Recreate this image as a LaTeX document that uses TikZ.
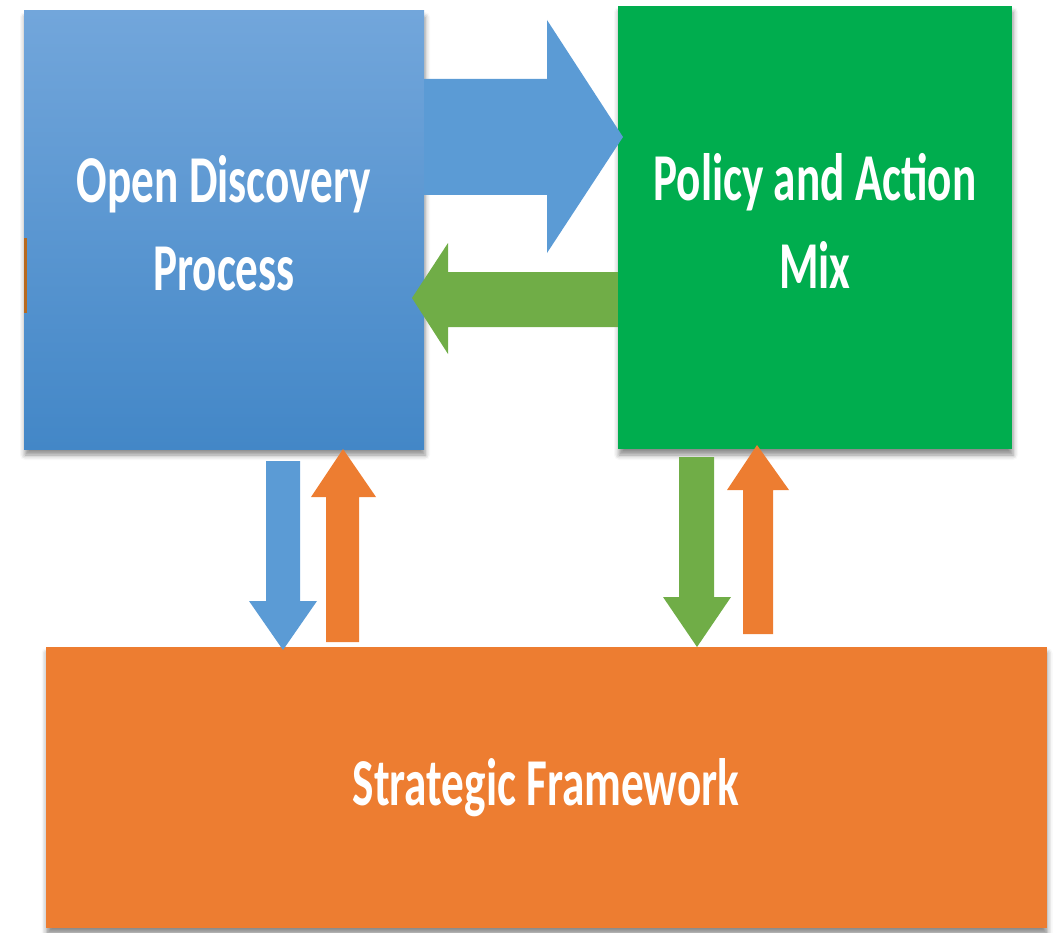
\documentclass[tikz,border=0pt]{standalone}
\usepackage{fontspec}
\newfontfamily\boxfont{Carlito}[FakeStretch=0.675]
\usetikzlibrary{shadows.blur}
\definecolor{bluetop}{HTML}{72A6DB}
\definecolor{bluebot}{HTML}{4387C7}
\definecolor{bluearrow}{HTML}{5B9BD5}
\definecolor{greenbox}{HTML}{00AD4E}
\definecolor{greenarrow}{HTML}{70AD47}
\definecolor{orangebox}{HTML}{ED7D31}
\definecolor{sliver}{HTML}{B8691E}
\tikzset{
  box/.style={draw=none, inner sep=0pt, align=center, text=white,
    font=\boxfont\bfseries\fontsize{67}{88}\selectfont,
    blur shadow={shadow xshift=1pt, shadow yshift=-6pt, shadow blur radius=5pt, shadow opacity=45}},
  blockarrow/.style={draw=none}
}
\begin{document}
\begin{tikzpicture}[x=1pt, y=-1pt]
\useasboundingbox (0,0) rectangle (1056,933);
% boxes
\node[box, top color=bluetop, bottom color=bluebot, minimum width=400pt, minimum height=438pt, text depth=14pt]
  (odp) at (224,230) {Open Discovery\\Process};
\node[box, fill=greenbox, minimum width=394pt, minimum height=443pt, text depth=14pt]
  (pam) at (815,227.5) {Policy and Action\\Mix};
\node[box, fill=orangebox, minimum width=1001pt, minimum height=281pt]
  (sf) at (546,787.5) {Strategic Framework};
\fill[sliver] (odp.west |- 0,238) rectangle ++(3,75);
% arrows between top boxes
\fill[bluearrow] (odp.east |- 0,79) -- (547,79) -- (547,20) -- (623,137) -- (547,253) -- (547,195) -- (odp.east |- 0,195) -- cycle;
\fill[greenarrow] (pam.west |- 0,272) -- (448,272) -- (448,243) -- (412,298) -- (448,354) -- (448,327) -- (pam.west |- 0,327) -- cycle;
% vertical arrows left
\fill[bluearrow] (266,461) -- (300,461) -- (300,601) -- (317,601) -- (283,650) -- (249,601) -- (266,601) -- cycle;
\fill[orangebox] (326,642) -- (326,497) -- (311,497) -- (343,449) -- (376,497) -- (359,497) -- (359,642) -- cycle;
% vertical arrows right
\fill[greenarrow] (679,457) -- (714,457) -- (714,597) -- (731,597) -- (697,647) -- (663,597) -- (679,597) -- cycle;
\fill[orangebox] (743,634) -- (743,490) -- (727,490) -- (757,445) -- (789,490) -- (773,490) -- (773,634) -- cycle;
\end{tikzpicture}
\end{document}
